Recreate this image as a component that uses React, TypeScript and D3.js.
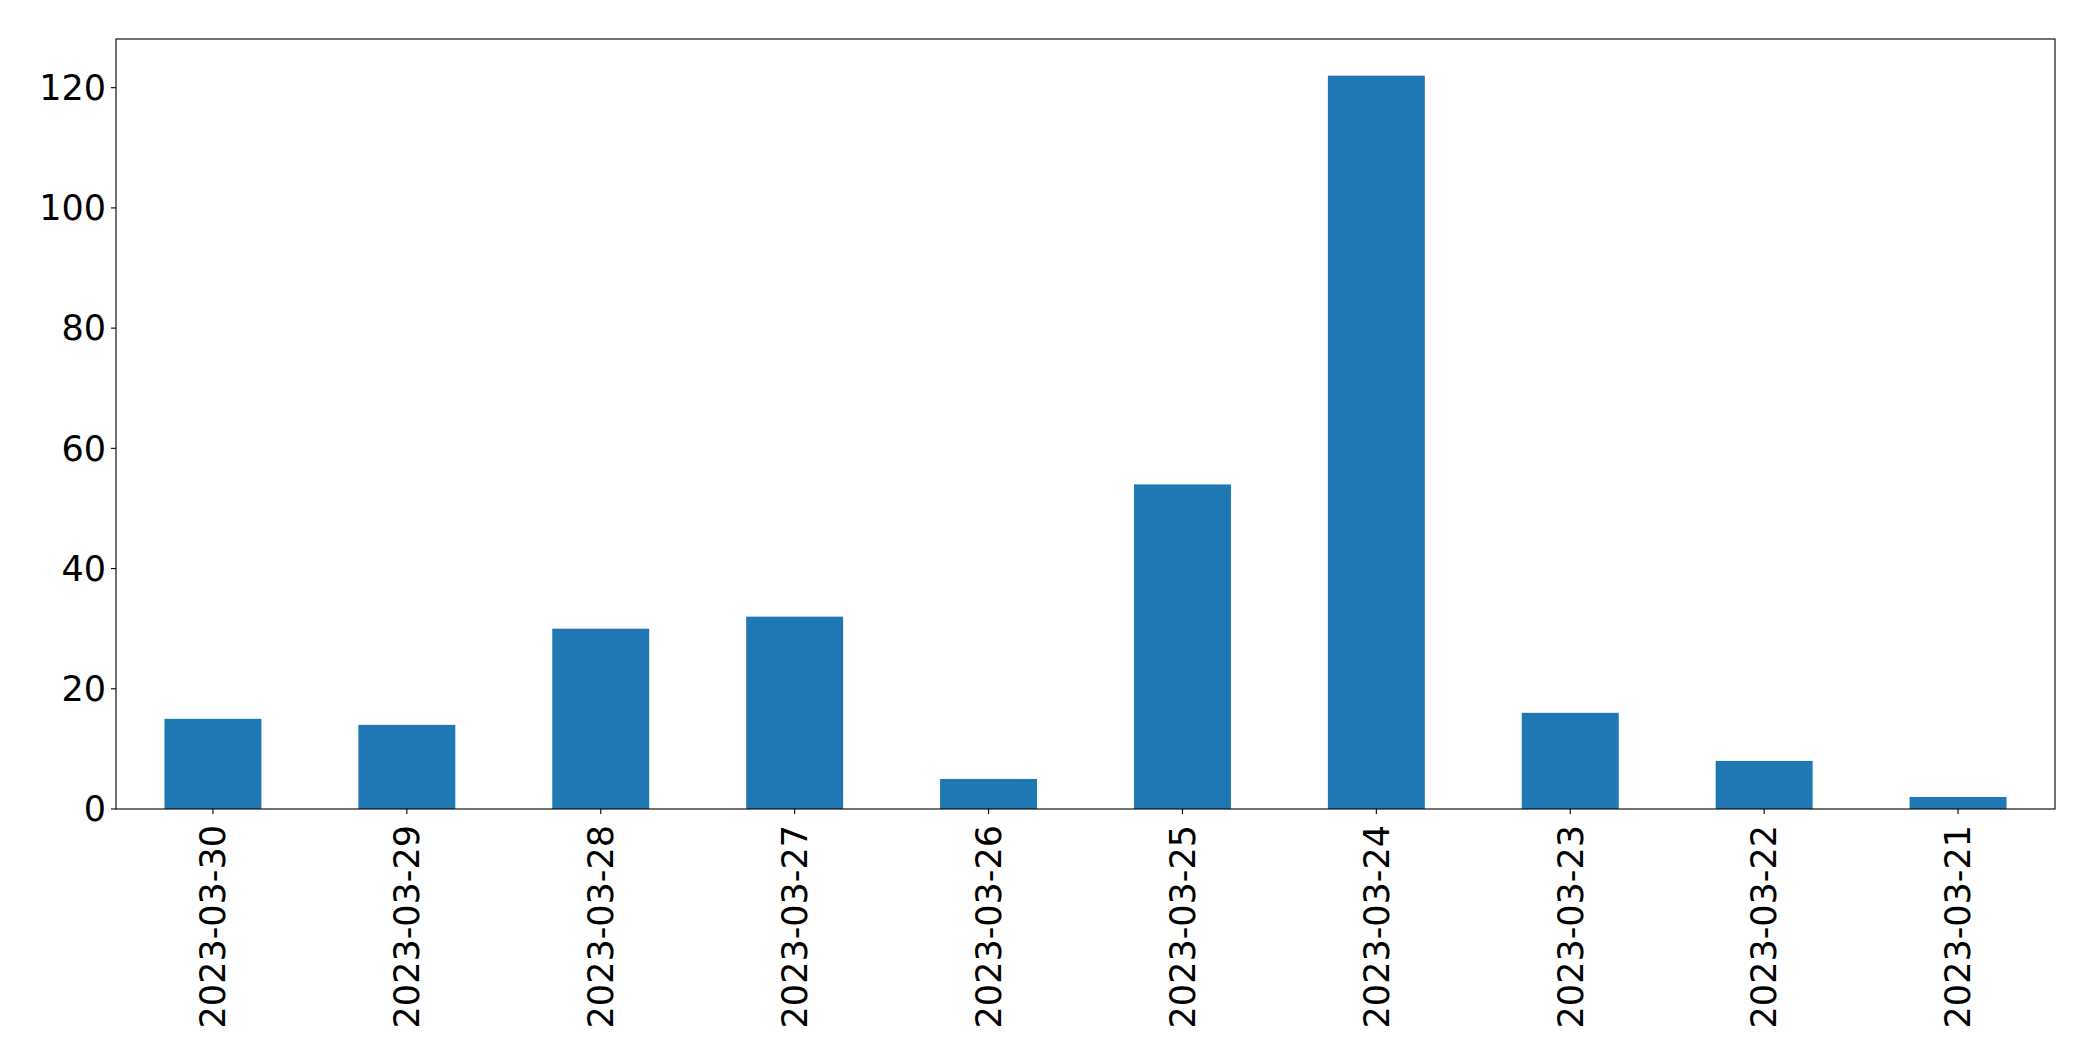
import React from "react";
import * as d3 from "d3";

const categories = [
  "2023-03-30", "2023-03-29", "2023-03-28", "2023-03-27", "2023-03-26",
  "2023-03-25", "2023-03-24", "2023-03-23", "2023-03-22", "2023-03-21",
];
const values = [15, 14, 30, 32, 5, 54, 122, 16, 8, 2];
const yTicks = [0, 20, 40, 60, 80, 100, 120];

const W = 2093;
const H = 1061;
const M = { left: 116, right: 2055, top: 39, bottom: 809 };
const FONT = "DejaVu Sans";
const FS = 35;

export default function App() {
  const x = d3.scaleBand<string>().domain(categories).range([M.left, M.right]).paddingInner(0.5).paddingOuter(0.25);
  const yMax = d3.max(values)! * 1.05;
  const y = d3.scaleLinear().domain([0, yMax]).range([M.bottom, M.top]);
  const bw = x.bandwidth();

  return (
    <svg width={W} height={H} style={{ position: "absolute", left: 0, top: 0, background: "#fff" }}>
      <rect x={0} y={0} width={W} height={H} fill="#fff" />
      {categories.map((c, i) => (
        <rect key={c} x={x(c)!} y={y(values[i])} width={bw} height={y(0) - y(values[i])} fill="#1f77b4" />
      ))}
      <rect x={M.left} y={M.top} width={M.right - M.left} height={M.bottom - M.top} fill="none" stroke="#000" strokeWidth={1.1} />
      {yTicks.map((t) => (
        <g key={t}>
          <line x1={M.left - 5} x2={M.left} y1={y(t)} y2={y(t)} stroke="#000" strokeWidth={1.1} />
          <text x={M.left - 10} y={y(t)} dy="0.35em" textAnchor="end" fontFamily={FONT} fontSize={FS} fill="#000">
            {t}
          </text>
        </g>
      ))}
      {categories.map((c) => {
        const cx = x(c)! + bw / 2;
        return (
          <g key={c}>
            <line x1={cx} x2={cx} y1={M.bottom} y2={M.bottom + 5} stroke="#000" strokeWidth={1.1} />
            <text
              transform={`translate(${cx},${M.bottom + 16}) rotate(-90)`}
              textAnchor="end"
              dy="0.35em"
              fontFamily={FONT}
              fontSize={FS}
              fill="#000"
            >
              {c}
            </text>
          </g>
        );
      })}
    </svg>
  );
}
